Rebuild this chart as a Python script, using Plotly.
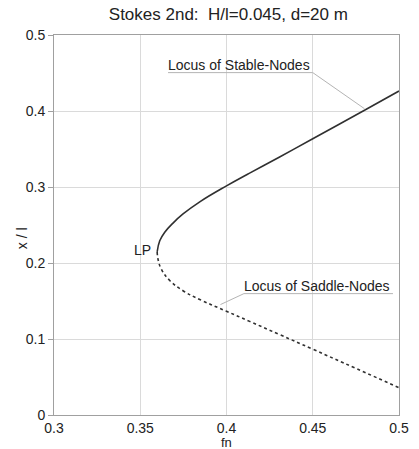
import plotly.graph_objects as go

# Stokes 2nd-order wave, H/l = 0.045, d = 20 m: equilibrium loci vs. frequency
stable_fn = [0.3598, 0.3613, 0.3642, 0.3690, 0.3748, 0.3845, 0.4000, 0.4134, 0.4308, 0.4500, 0.4800, 0.5000]
stable_xl = [0.2145, 0.2292, 0.2405, 0.2525, 0.2645, 0.2805, 0.3015, 0.3183, 0.3395, 0.3635, 0.4010, 0.4263]

saddle_fn = [0.3598, 0.3604, 0.3623, 0.3671, 0.3748, 0.3845, 0.4000, 0.4134, 0.4308, 0.4500, 0.4750, 0.5000]
saddle_xl = [0.2145, 0.2040, 0.1915, 0.1770, 0.1635, 0.1520, 0.1365, 0.1232, 0.1058, 0.0866, 0.0613, 0.0360]

x_ticks = [0.3, 0.35, 0.4, 0.45, 0.5]
x_tick_text = ["0.3", "0.35", "0.4", "0.45", "0.5"]
y_ticks = [0, 0.1, 0.2, 0.3, 0.4, 0.5]
y_tick_text = ["0", "0.1", "0.2", "0.3", "0.4", "0.5"]

FONT = "Liberation Sans, Arial, sans-serif"
CURVE = "#303030"
LEADER = "#b4b4b4"
TEXT = "#222"

fig = go.Figure()
fig.add_trace(go.Scatter(x=stable_fn, y=stable_xl, mode="lines",
                         line=dict(color=CURVE, width=1.6, shape="spline", smoothing=1.2),
                         showlegend=False, hoverinfo="skip"))
fig.add_trace(go.Scatter(x=saddle_fn, y=saddle_xl, mode="lines",
                         line=dict(color=CURVE, width=1.6, dash="dot", shape="spline", smoothing=1.2),
                         showlegend=False, hoverinfo="skip"))

# Label leaders: underline under the text, then a thin line to the curve
stable_label = dict(x0=0.3661, x1=0.4500, y=0.4505, tip=(0.4800, 0.4030))
saddle_label = dict(x0=0.4101, x1=0.4965, y=0.1597, tip=(0.3965, 0.1453))
for lab in (stable_label, saddle_label):
    fig.add_shape(type="line", xref="x", yref="y", x0=lab["x0"], x1=lab["x1"],
                  y0=lab["y"], y1=lab["y"], line=dict(color=LEADER, width=1))
for lab, anchor_x in ((stable_label, stable_label["x1"]), (saddle_label, saddle_label["x0"])):
    fig.add_shape(type="line", xref="x", yref="y", x0=anchor_x, y0=lab["y"],
                  x1=lab["tip"][0], y1=lab["tip"][1], line=dict(color=LEADER, width=1))

fig.add_annotation(x=stable_label["x0"], y=stable_label["y"], xref="x", yref="y",
                   text="Locus of Stable-Nodes", showarrow=False, xanchor="left", yanchor="bottom",
                   xshift=-2, yshift=-2, font=dict(family=FONT, size=14, color=TEXT))
fig.add_annotation(x=saddle_label["x0"], y=saddle_label["y"], xref="x", yref="y",
                   text="Locus of Saddle-Nodes", showarrow=False, xanchor="left", yanchor="bottom",
                   xshift=-2, yshift=-2, font=dict(family=FONT, size=14, color=TEXT))
fig.add_annotation(x=0.3575, y=0.2167, xref="x", yref="y", text="LP", showarrow=False,
                   xanchor="right", yanchor="middle", font=dict(family=FONT, size=14, color=TEXT))

# Axis titles
fig.add_annotation(x=0.5, y=-0.048, xref="paper", yref="paper", text="fn", showarrow=False,
                   xanchor="center", yanchor="top", font=dict(family=FONT, size=13, color=TEXT))
fig.add_annotation(x=-0.093, y=0.465, xref="paper", yref="paper", text="x / l", showarrow=False,
                   textangle=-90, xanchor="center", yanchor="middle",
                   font=dict(family=FONT, size=14, color=TEXT))

fig.update_layout(
    width=419, height=449,
    margin=dict(l=54, r=20, t=35, b=34),
    paper_bgcolor="white", plot_bgcolor="white",
    font=dict(family=FONT, size=14, color=TEXT),
    title=dict(text="Stokes 2nd:  H/l=0.045, d=20 m", x=0.545, xanchor="center",
               y=0.968, yanchor="middle", font=dict(family=FONT, size=17, color=TEXT)),
    xaxis=dict(range=[0.3, 0.5], tickvals=x_ticks, ticktext=x_tick_text,
               showgrid=True, gridcolor="#dadada", gridwidth=1,
               showline=True, linecolor="#a0a0a0", linewidth=1, mirror=True,
               ticks="", zeroline=False, automargin=False),
    yaxis=dict(range=[0, 0.5], tickvals=y_ticks, ticktext=y_tick_text,
               showgrid=True, gridcolor="#dadada", gridwidth=1,
               showline=True, linecolor="#a0a0a0", linewidth=1, mirror=True,
               ticks="outside", ticklen=5, tickcolor="#a0a0a0", zeroline=False, automargin=False),
)

fig.write_html("out.html")
